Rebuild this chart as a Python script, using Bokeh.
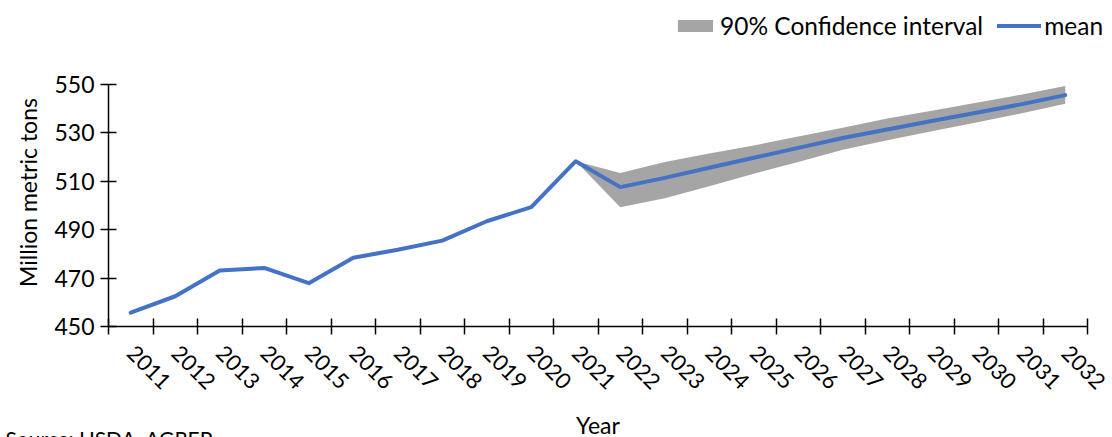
import math

from bokeh.embed import file_html
from bokeh.models import (ColumnDataSource, FixedTicker, Label, Legend,
                          LegendItem, PrintfTickFormatter, Range1d)
from bokeh.plotting import figure
from bokeh.resources import INLINE

# Observed production, 2011-2021 (million metric tons)
hist_years = [2011, 2012, 2013, 2014, 2015, 2016, 2017, 2018, 2019, 2020, 2021]
hist_mean = [455.7, 462.5, 473.1, 474.2, 467.9, 478.4, 481.7, 485.5, 493.5, 499.3, 518.3]

# Projection, 2021-2032: mean and 90% confidence bounds
proj_years = [2021, 2022, 2023, 2024, 2025, 2026, 2027, 2028, 2029, 2030, 2031, 2032]
proj_mean = [518.3, 507.6, 511.4, 515.6, 519.7, 523.8, 527.9, 531.4, 534.9, 538.3, 541.8, 545.6]
proj_upper = [518.3, 513.4, 518.0, 521.5, 524.8, 528.5, 532.1, 535.9, 539.2, 542.5, 545.8, 549.4]
proj_lower = [518.3, 499.3, 503.0, 508.0, 513.1, 518.0, 523.0, 527.0, 530.7, 534.3, 538.0, 542.0]

y_ticks = [450, 470, 490, 510, 530, 550]

FONT = "Lato"
BLUE = "#4472C4"
GREY = "#A5A5A5"

W, H = 1112, 437
# plot-area box (pixels from the top-left corner of the page)
LEFT, RIGHT, TOP, BOTTOM = 108, 1087, 84, 326

all_years = hist_years + proj_years[1:]
mean_all = hist_mean + proj_mean[1:]

x_lo, x_hi = all_years[0] - 0.5, all_years[-1] + 0.5
y_lo, y_hi = y_ticks[0], y_ticks[-1]
px_x = (RIGHT - LEFT) / (x_hi - x_lo)
px_y = (BOTTOM - TOP) / (y_hi - y_lo)

line_src = ColumnDataSource(data=dict(year=all_years, mean=mean_all))
band_src = ColumnDataSource(data=dict(year=proj_years, lo=proj_lower, hi=proj_upper))

# the frame fills the whole page; axes are pinned at the plot-area edges
p = figure(
    width=W, height=H,
    output_backend="svg", toolbar_location=None, title_location=None,
    x_range=Range1d(x_lo - LEFT / px_x, x_hi + (W - RIGHT) / px_x),
    y_range=Range1d(y_lo - (H - BOTTOM) / px_y, y_hi + TOP / px_y),
    min_border=0,
)
p.outline_line_color = None
p.xgrid.visible = False
p.ygrid.visible = False
p.background_fill_color = "white"
p.border_fill_color = "white"

band = p.varea(x="year", y1="lo", y2="hi", source=band_src, fill_color=GREY)
line = p.line(x="year", y="mean", source=line_src, line_color=BLUE,
              line_width=4, line_join="round", line_cap="round")

# x axis: labels at year centres, tick marks on the boundaries between years
xa = p.xaxis[0]
xa.fixed_location = y_lo
xa.bounds = (x_lo, x_hi)
xa.ticker = FixedTicker(ticks=all_years,
                        minor_ticks=[y - 0.5 for y in all_years] + [x_hi])
xa.formatter = PrintfTickFormatter(format="%d")
xa.major_tick_line_color = None
xa.minor_tick_line_color = "black"
xa.minor_tick_line_width = 1.5
xa.minor_tick_in = 8
xa.minor_tick_out = 8
xa.axis_line_color = "black"
xa.axis_line_width = 1.5
xa.major_label_orientation = -math.pi / 4
xa.major_label_standoff = 15
xa.major_label_text_font = FONT
xa.major_label_text_font_size = "22px"
xa.major_label_text_color = "black"

ya = p.yaxis[0]
ya.fixed_location = x_lo
ya.bounds = (y_lo, y_hi)
ya.ticker = FixedTicker(ticks=y_ticks)
ya.major_tick_line_color = "black"
ya.major_tick_line_width = 1.5
ya.major_tick_in = 8
ya.major_tick_out = 8
ya.minor_tick_line_color = None
ya.axis_line_color = "black"
ya.axis_line_width = 1.5
ya.major_label_standoff = 6
ya.major_label_text_font = FONT
ya.major_label_text_font_size = "23px"
ya.major_label_text_color = "black"

# axis titles and source note (screen units: from the bottom-left corner)
p.add_layout(Label(
    x=27, y=H - 192, x_units="screen", y_units="screen",
    text="Million metric tons", angle=math.pi / 2,
    text_align="center", text_baseline="middle",
    text_font=FONT, text_font_size="23px", text_color="black",
))
p.add_layout(Label(
    x=(LEFT + RIGHT) / 2, y=H - 410, x_units="screen", y_units="screen",
    text="Year", text_align="center", text_baseline="top",
    text_font=FONT, text_font_size="23px", text_color="black",
))
p.add_layout(Label(
    x=5, y=H - 425, x_units="screen", y_units="screen",
    text="Source: USDA, AGREP", text_align="left", text_baseline="top",
    text_font=FONT, text_font_size="21px", text_color="black",
))

legend = Legend(
    items=[LegendItem(label="90% Confidence interval", renderers=[band]),
           LegendItem(label="mean", renderers=[line])],
    orientation="horizontal", location=(673, H - 40),
    padding=0, margin=0, spacing=14, label_standoff=3,
    glyph_width=44, glyph_height=15,
    border_line_color=None, background_fill_alpha=0,
    label_text_font=FONT, label_text_font_size="24.5px", label_text_color="black",
)
p.add_layout(legend)

open("out.html", "w").write(file_html(p, INLINE))
